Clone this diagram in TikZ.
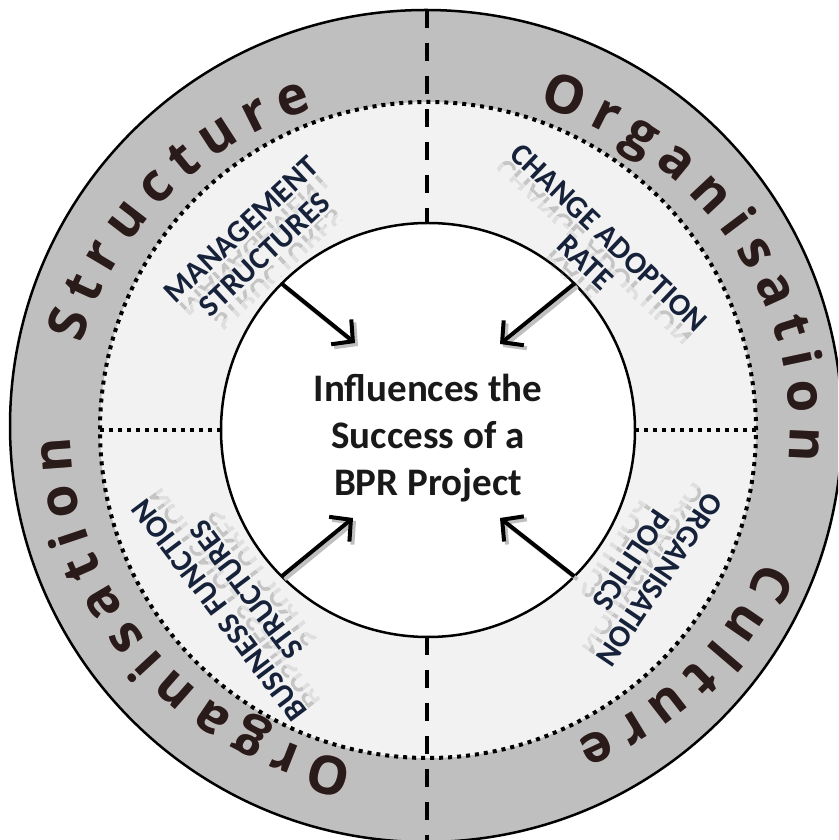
\documentclass[tikz,border=0pt]{standalone}
\usepackage{fontspec}
\setmainfont{Carlito}
\newfontfamily\ringfont{Open Sans}
\newfontfamily\labfont{Carlito}
\usetikzlibrary{decorations.text,arrows.meta}
\definecolor{ringgray}{HTML}{BFBFBF}
\definecolor{midgray}{HTML}{F2F2F2}
\definecolor{labnavy}{HTML}{16213A}
\definecolor{ringtext}{HTML}{2A1B1B}
\definecolor{ringshadow}{HTML}{9A7878}
\tikzset{
  dotline/.style={line width=4pt, dash pattern=on 4pt off 5pt},
  dashline/.style={line width=3.5pt, dash pattern=on 18pt off 15pt},
  lab/.style={anchor=base, inner sep=0pt, text=labnavy,
    font=\labfont\bfseries\fontsize{31}{34}\selectfont},
  reflect/.style={lab, yscale=-1, text=black!55},
  bigarrow/.style={line width=4pt, -{Straight Barb[length=15pt,width=32pt]}},
  arrowshadow/.style={bigarrow, draw=black!25, transform canvas={shift={(3pt,-3pt)}}},
  ringdeco/.style={decorate, decoration={text along path, text align=fit to path,
    text={|\ringfont\bfseries\fontsize{53}{53}\selectfont|#1}}}
}
\newcommand\reflline[3]{%
  \begin{scope}
    \clip (-200,#2-2) rectangle (200,#2-9);
    \node[reflect, opacity=0.35] (#1a) at (0,#2-2) {#3};
  \end{scope}
  \begin{scope}
    \clip (-200,#2-9) rectangle (200,#2-17);
    \node[reflect, opacity=0.15] (#1b) at (0,#2-2) {#3};
  \end{scope}}
% word on the ring: #1 word, #2 start angle, #3 end angle, #4 colour
\newcommand\ringword[4]{%
  \path[ringdeco={#1}, decoration={text color=#4}]
    (T) ++(#2:360 and 340) arc[start angle=#2, end angle=#3, x radius=360, y radius=340];}
\begin{document}
\begin{tikzpicture}[x=1pt,y=1pt]
\useasboundingbox (0,0) rectangle (838,840);
\clip (0,0) rectangle (838,840);
\fill[white] (0,0) rectangle (838,840);

\coordinate (O) at (426,414);
\coordinate (C) at (428,410);
\coordinate (T) at (430,410);

% rings
\fill[ringgray] (O) circle (416);
\fill[midgray] (C) circle (328);
\draw[dotline] (C) circle (328);
\fill[white] (C) circle (207);
\draw[line width=2.5pt] (C) circle (207);
\draw[line width=2.5pt] (O) circle (416);

% dividers
\coordinate (vt0) at (427,830);
\coordinate (vt1) at (427,617);
\coordinate (vb0) at (427,203);
\coordinate (vb1) at (427,-5);
\draw[dashline] (vt0) -- (vt1);
\draw[dashline] (vb0) -- (vb1);
\coordinate (hl0) at (100,410);
\coordinate (hl1) at (221,410);
\coordinate (hr0) at (635,410);
\coordinate (hr1) at (757,410);
\draw[dotline] (hl1) -- (hl0);
\draw[dotline] (hr0) -- (hr1);

% outer ring texts (shadow, then letters)
\begin{scope}[shift={(2,-2.5)}]
  \ringword{Organisation}{72.5}{-5.2}{ringshadow}
  \ringword{Culture}{-22.5}{-66}{ringshadow}
  \ringword{Organisation}{-102.3}{-178.9}{ringshadow}
  \ringword{Structure}{-194.7}{-251}{ringshadow}
\end{scope}
\ringword{Organisation}{72.5}{-5.2}{ringtext}
\ringword{Culture}{-22.5}{-66}{ringtext}
\ringword{Organisation}{-102.3}{-178.9}{ringtext}
\ringword{Structure}{-194.7}{-251}{ringtext}

% middle ring labels
\begin{scope}[shift={(253,598)}, rotate=43, transform shape]
  \reflline{msA}{7}{MANAGEMENT}
  \reflline{msB}{-27}{STRUCTURES}
  \node[lab] (ms1) at (0,7) {MANAGEMENT};
  \node[lab] (ms2) at (0,-27) {STRUCTURES};
\end{scope}
\begin{scope}[shift={(597,590)}, rotate=-43.5, transform shape]
  \reflline{caA}{7}{CHANGE ADOPTION}
  \reflline{caB}{-27}{RATE}
  \node[lab] (ca1) at (0,7) {CHANGE ADOPTION};
  \node[lab] (ca2) at (0,-27) {RATE};
\end{scope}
\begin{scope}[shift={(233,240)}, rotate=127, transform shape]
  \reflline{bfA}{7}{BUSINESS FUNCTION}
  \reflline{bfB}{-27}{STRUCTURES}
  \node[lab] (bf1) at (0,7) {BUSINESS FUNCTION};
  \node[lab] (bf2) at (0,-27) {STRUCTURES};
\end{scope}
\begin{scope}[shift={(645,270)}, rotate=-124, transform shape]
  \reflline{opA}{7}{ORGANISATION}
  \reflline{opB}{-27}{POLITICS}
  \node[lab] (op1) at (0,7) {ORGANISATION};
  \node[lab] (op2) at (0,-27) {POLITICS};
\end{scope}

% centre text
\node[font=\bfseries\fontsize{39}{47}\selectfont, align=center, inner sep=0pt, text=black!90] (centre) at (428,402)
  {Influences the\\Success of a\\BPR Project};

% arrows
\coordinate (ulS) at ([shift={(135:207)}]C);
\coordinate (urS) at ([shift={(45:207)}]C);
\coordinate (llS) at ([shift={(225:207)}]C);
\coordinate (lrS) at ([shift={(-45:207)}]C);
\coordinate (ulT) at ([shift={(-73,87)}]C);
\coordinate (urT) at ([shift={(72,86)}]C);
\coordinate (llT) at ([shift={(-75,-88)}]C);
\coordinate (lrT) at ([shift={(72,-88)}]C);
\foreach \s/\t in {ulS/ulT, urS/urT, llS/llT, lrS/lrT}{
  \draw[arrowshadow] (\s) -- (\t);
  \draw[bigarrow] (\s) -- (\t);
}
\end{tikzpicture}
\end{document}
